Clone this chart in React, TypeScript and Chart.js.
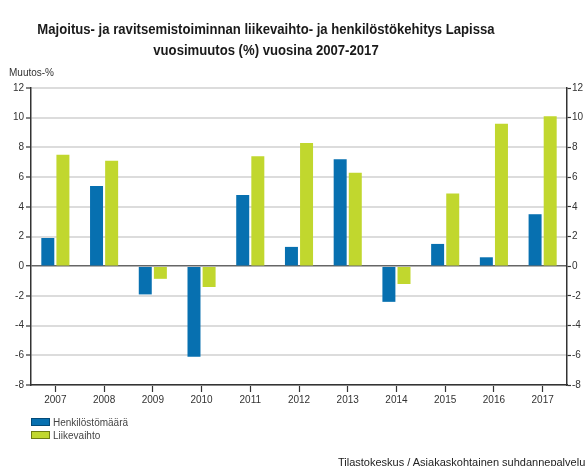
import React, { useEffect, useRef } from "react";
import { Chart, registerables } from "chart.js";

Chart.register(...registerables);

const years = ["2007", "2008", "2009", "2010", "2011", "2012", "2013", "2014", "2015", "2016", "2017"];
const henkilosto = [1.9, 5.4, -1.9, -6.1, 4.8, 1.3, 7.2, -2.4, 1.5, 0.6, 3.5];
const liikevaihto = [7.5, 7.1, -0.85, -1.4, 7.4, 8.3, 6.3, -1.2, 4.9, 9.6, 10.1];
const seriesNames = ["Henkilöstömäärä", "Liikevaihto"];
const titleLines = [
  "Majoitus- ja ravitsemistoiminnan liikevaihto- ja henkilöstökehitys Lapissa",
  "vuosimuutos (%) vuosina 2007-2017",
];
const yLabel = "Muutos-%";
const sourceText = "Tilastokeskus / Asiakaskohtainen suhdannepalvelu";

const BLUE = "#0770b0";
const GREEN = "#c1d72e";
const FONT = "'Liberation Sans', Arial, sans-serif";

export default function App() {
  const ref = useRef<HTMLCanvasElement | null>(null);

  useEffect(() => {
    if (!ref.current) return;
    const chart = new Chart(ref.current, {
      type: "bar",
      data: {
        labels: years,
        datasets: [
          {
            label: seriesNames[0],
            data: henkilosto,
            backgroundColor: BLUE,
            yAxisID: "y",
            categoryPercentage: 0.62,
            barPercentage: 0.86,
          },
          {
            label: seriesNames[1],
            data: liikevaihto,
            backgroundColor: GREEN,
            yAxisID: "y",
            categoryPercentage: 0.62,
            barPercentage: 0.86,
          },
        ],
      },
      options: {
        responsive: false,
        animation: false,
        layout: { padding: { top: 88, bottom: 56, left: 0, right: 0 } },
        plugins: {
          legend: { display: false },
          title: { display: false },
          tooltip: { enabled: false },
        },
        scales: {
          x: {
            offset: true,
            grid: {
              display: true,
              drawOnChartArea: false,
              drawTicks: true,
              tickLength: 7,
              tickColor: "#333",
              tickWidth: 1.2,
              offset: false,
            },
            border: { color: "#333", width: 1.5 },
            ticks: { color: "#333", font: { family: FONT, size: 10 }, padding: 2 },
            afterFit: (s: any) => {
              s.height = 25;
            },
          },
          y: {
            position: "left",
            min: -8,
            max: 12,
            ticks: { stepSize: 2, color: "#333", font: { family: FONT, size: 10 }, padding: 2 },
            grid: {
              color: (ctx: any) => (ctx.tick && ctx.tick.value === 0 ? "#666" : "#dcdcdc"),
              lineWidth: (ctx: any) => (ctx.tick && ctx.tick.value === 0 ? 1.5 : 2),
              tickColor: "#333",
              tickLength: 5,
              tickWidth: 1.2,
            },
            border: { color: "#333", width: 1.5 },
            afterFit: (s: any) => {
              s.width = 31;
            },
          },
          y2: {
            position: "right",
            min: -8,
            max: 12,
            ticks: { stepSize: 2, color: "#333", font: { family: FONT, size: 10 }, padding: 1 },
            grid: {
              drawOnChartArea: false,
              tickColor: "#333",
              tickLength: 4,
              tickWidth: 1.2,
            },
            border: { color: "#333", width: 1.5 },
            afterFit: (s: any) => {
              s.width = 21;
            },
          },
        },
      },
    });
    return () => chart.destroy();
  }, []);

  const legendRow = (name: string, color: string, border: string, top: number) => (
    <div style={{ position: "absolute", left: 31, top, display: "flex", alignItems: "center", height: 12 }}>
      <div style={{ width: 17, height: 6, background: color, border: `1px solid ${border}` }} />
      <span style={{ marginLeft: 3, fontSize: 10, fontFamily: FONT, color: "#444" }}>{name}</span>
    </div>
  );

  return (
    <div style={{ position: "fixed", left: 0, top: 0, width: 588, height: 466, background: "#fff", overflow: "hidden" }}>
      <canvas ref={ref} width={588} height={466} style={{ position: "absolute", left: 0, top: 0 }} />
      <div
        style={{
          position: "absolute",
          left: 0,
          width: 532,
          top: 18,
          textAlign: "center",
          fontFamily: FONT,
          fontWeight: "bold",
          fontSize: 15,
          lineHeight: "21px",
          color: "#1a1a1a",
          transform: "scaleX(0.875)",
          transformOrigin: "266px 0",
          whiteSpace: "nowrap",
        }}
      >
        <div>{titleLines[0]}</div>
        <div>{titleLines[1]}</div>
      </div>
      <div style={{ position: "absolute", left: 9, top: 67, fontFamily: FONT, fontSize: 10, color: "#333" }}>{yLabel}</div>
      {legendRow(seriesNames[0], BLUE, "#034a78", 416)}
      {legendRow(seriesNames[1], GREEN, "#6f7d12", 429)}
      <div style={{ position: "absolute", left: 338, top: 456, fontFamily: FONT, fontSize: 11, color: "#222", whiteSpace: "nowrap" }}>
        {sourceText}
      </div>
    </div>
  );
}
